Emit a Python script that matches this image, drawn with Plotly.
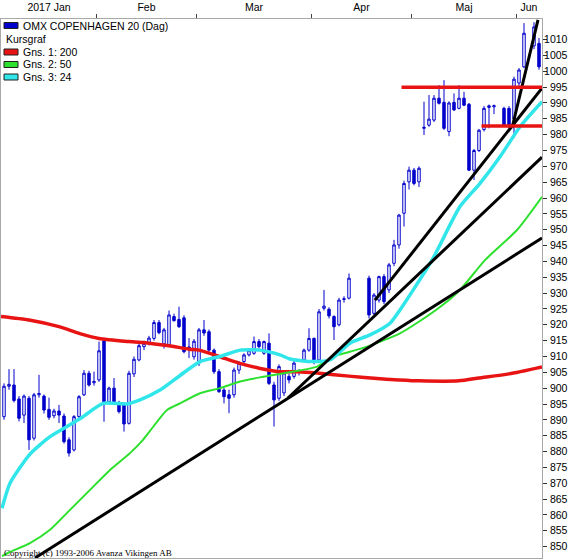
import plotly.graph_objects as go

# ---------------- data ----------------
months = ["2017 Jan", "Feb", "Mar", "Apr", "Maj", "Jun"]
month_slots = [19, 20, 23, 20, 21, 5]

slot = [0, 1, 2, 3, 4, 5, 6, 7, 8, 9, 10, 11, 12, 13, 14, 15, 16, 17, 18, 19,
        20, 21, 22, 23, 24, 25, 26, 27, 28, 29, 30, 31, 32, 33, 34, 35, 36, 37, 38, 39,
        40, 41, 42, 43, 44, 45, 46, 47, 48, 49, 50, 51, 52, 53, 54, 55, 56, 57, 58, 59,
        60, 61, 62, 63, 64, 65, 66, 67, 68, 69, 73, 74, 75, 76, 77, 78, 79,
        80, 81, 82, 83, 84, 85, 86, 87, 88, 89, 90, 91, 92, 93, 94, 95, 96, 97, 98,
        100, 101, 102, 103, 104, 106, 107]
open_ = [891.0, 900.6, 901.0, 896.6, 891.5, 896.8, 884.2, 897.9, 897.5, 893.3,
         891.3, 892.8, 891.2, 883.7, 880.5, 891.0, 897.9, 904.7, 901.7, 902.6,
         914.9, 895.7, 900.0, 895.2, 894.7, 888.9, 904.5, 908.9, 913.1, 914.3,
         915.7, 920.7, 914.0, 913.6, 922.6, 921.7, 922.2, 912.5, 909.9, 907.9,
         918.4, 917.8, 912.0, 905.2, 899.4, 897.9, 897.9, 905.7, 908.4, 910.5,
         911.0, 914.7, 911.0, 914.2, 901.0, 896.8, 898.5, 903.7, 903.7, 905.0,
         908.9, 912.0, 915.7, 908.9, 925.2, 924.9, 922.6, 920.0, 928.0, 928.4,
         934.7, 923.6, 927.8, 935.2, 931.0, 939.4, 945.2,
         955.2, 965.1, 968.8, 965.1, 982.0, 983.0, 984.6, 991.5, 990.2, 981.0,
         990.2, 988.3, 991.5, 989.6, 968.8, 975.0, 981.6, 988.6, 988.8,
         988.3, 988.3, 985.0, 996.3, 1001.4, 1008.0, 1008.8]
high = [901.5, 906.0, 906.0, 897.5, 898.0, 897.5, 898.5, 904.2, 898.0, 897.0,
        893.5, 894.7, 892.0, 884.5, 891.5, 897.8, 905.7, 905.5, 905.2, 914.7,
        915.5, 900.5, 903.2, 896.0, 895.5, 905.5, 910.0, 914.0, 915.0, 916.5,
        921.5, 921.5, 919.0, 924.5, 923.5, 925.7, 923.0, 915.8, 915.5, 919.0,
        921.5, 918.5, 912.5, 906.0, 900.0, 899.5, 906.5, 908.5, 911.0, 912.5,
        916.3, 915.5, 915.0, 917.3, 902.0, 907.5, 905.5, 904.5, 909.0, 906.0,
        912.5, 918.9, 916.0, 925.0, 931.0, 925.5, 923.0, 928.5, 929.0, 936.2,
        935.5, 930.0, 935.5, 936.0, 939.5, 946.8, 955.0,
        965.5, 969.9, 969.5, 970.0, 990.4, 992.5, 992.5, 995.6, 997.2, 990.5,
        993.0, 995.6, 993.5, 990.0, 975.5, 981.8, 989.0, 989.5, 989.5,
        988.8, 989.0, 998.3, 1001.0, 1015.2, 1015.5, 1010.5]
low = [890.0, 899.5, 895.5, 889.5, 889.0, 880.5, 883.5, 897.0, 892.0, 890.0,
       890.5, 889.0, 882.5, 878.4, 880.0, 890.5, 897.5, 900.5, 900.8, 902.0,
       889.4, 895.0, 895.0, 892.0, 886.3, 888.5, 903.5, 908.5, 912.0, 913.5,
       915.0, 917.0, 912.5, 913.0, 921.0, 919.0, 911.0, 909.5, 909.0, 907.0,
       916.5, 911.5, 904.5, 898.5, 895.2, 892.1, 897.0, 904.5, 907.5, 910.0,
       910.5, 912.5, 910.5, 901.0, 887.9, 896.0, 897.5, 901.5, 903.0, 904.0,
       908.5, 911.5, 907.5, 908.0, 924.5, 922.0, 915.2, 919.5, 927.0, 928.0,
       922.0, 923.0, 927.0, 926.5, 930.0, 938.5, 944.0,
       951.0, 962.7, 964.0, 963.5, 979.9, 982.5, 984.0, 989.5, 981.5, 979.5,
       987.5, 988.0, 989.0, 968.5, 965.7, 974.5, 981.0, 982.0, 986.5,
       982.5, 982.0, 979.0, 995.0, 1001.0, 1007.0, 1000.5]
close = [900.6, 901.2, 896.1, 890.5, 897.5, 883.7, 897.9, 898.3, 893.1, 890.8,
         892.8, 891.5, 883.1, 879.5, 891.0, 897.3, 904.7, 901.0, 902.1, 911.8,
         895.7, 900.0, 895.7, 892.6, 888.7, 904.7, 909.1, 913.4, 914.2, 915.8,
         920.7, 917.5, 918.4, 923.1, 921.3, 919.4, 911.5, 913.0, 914.8, 918.4,
         917.4, 912.0, 905.2, 898.9, 897.3, 896.8, 905.7, 907.9, 910.5, 912.0,
         914.7, 913.1, 914.7, 901.5, 896.3, 906.8, 904.8, 902.6, 907.9, 905.3,
         912.0, 915.7, 908.4, 924.1, 925.9, 922.8, 919.4, 927.8, 928.2, 934.7,
         923.1, 929.4, 935.2, 927.3, 938.9, 945.2, 954.6,
         964.6, 968.8, 964.6, 969.4, 982.3, 984.9, 991.5, 989.9, 982.0, 990.0,
         987.8, 991.5, 989.3, 968.8, 975.0, 981.4, 988.3, 989.1, 989.1,
         983.0, 982.5, 997.5, 1000.4, 1012.0, 1014.0, 1001.4]

ma200_slot = [-0.6, 5, 11, 15, 19, 25, 29, 33, 37, 39, 43, 47, 51, 55, 59, 63,
              69, 74, 79, 83, 91, 95, 101, 107.6]
ma200_val = [922.6, 921.5, 919.4, 917.3, 915.7, 914.7, 914.2, 913.4, 912.3, 912.0,
             910.0, 907.9, 906.3, 905.2, 905.2, 904.7, 903.8, 903.1, 902.6, 902.3,
             902.3, 903.2, 904.5, 906.7]

ma50_slot = [-0.4, 1.2, 5.2, 9.2, 13.2, 17.2, 21.2, 25.2, 27.8, 29.2, 32.6, 35.2,
             39.2, 43.2, 47.2, 51.2, 55.2, 62.6, 65.8, 69.2, 72.6, 79.2, 83.2,
             87.2, 91.2, 96.2, 102.6, 107.6]
ma50_val = [847.0, 848.3, 851.1, 855.3, 861.6, 867.9, 874.2, 879.5, 883.7, 886.5,
            893.1, 895.2, 898.4, 900.0, 902.1, 903.4, 904.5, 906.8, 910.0, 911.5,
            913.1, 917.3, 921.2, 925.6, 931.0, 940.4, 949.9, 960.4]

ma24_slot = [-0.4, 1.2, 5.2, 9.2, 12.6, 15.8, 19.8, 24.6, 27.2, 31.2, 35.2, 39.2,
             43.2, 47.2, 51.2, 55.2, 57.2, 61.2, 65.2, 69.2, 73.2, 77.2, 79.2,
             85.6, 91.2, 95.2, 99.2, 103.2, 107.6]
ma24_val = [862.1, 870.0, 879.2, 884.7, 887.9, 891.0, 895.2, 895.0, 896.3, 899.4,
            904.0, 908.4, 910.0, 912.0, 912.0, 910.5, 909.2, 908.4, 908.9, 914.2,
            916.8, 920.5, 924.7, 940.4, 957.3, 964.6, 973.0, 982.5, 990.4]

trend_start_slot = [6.2, 56.8, 74.2, 101.6]
trend_start_val = [846.4, 896.9, 927.8, 982.1]
trend_end_slot = [107.6, 107.6, 107.6, 106.8]
trend_end_val = [947.4, 972.9, 994.7, 1016.2]

level_val = [995.0, 982.7]
level_start_slot = [79.5, 95.5]

y_ticks = list(range(850, 1011, 5))

legend_labels = ["OMX COPENHAGEN 20 (Dag)", "Kursgraf", "Gns. 1: 200", "Gns. 2: 50", "Gns. 3: 24"]
copyright_text = "Copyright (c) 1993-2006 Avanza Vikingen AB"

# ---------------- styles ----------------
W, H = 578, 560
ML, MR, MT, MB = 1, 36, 19, 2
PW, PH = W - ML - MR, H - MT - MB
X_RANGE = [-0.6, 107.6]
Y_RANGE = [846.4, 1016.5]

BLUE = "#0000cc"
RED = "#e81414"
GREEN = "#2ee02e"
CYAN = "#30e6ea"
BLACK = "#000000"
FONT = "Liberation Sans, Arial, sans-serif"


def px(x, y):
    return (x - ML) / PW, (H - MB - y) / PH


fig = go.Figure()

fig.add_trace(go.Candlestick(
    x=slot, open=open_, high=high, low=low, close=close,
    increasing=dict(line=dict(color=BLUE, width=1), fillcolor="white"),
    decreasing=dict(line=dict(color=BLUE, width=1), fillcolor=BLUE),
    whiskerwidth=0, hoverinfo="skip", showlegend=False))

for sx, sv, col, wd in [(ma200_slot, ma200_val, RED, 3.5),
                        (ma50_slot, ma50_val, GREEN, 2),
                        (ma24_slot, ma24_val, CYAN, 3.5)]:
    fig.add_trace(go.Scatter(x=sx, y=sv, mode="lines",
                             line=dict(color=col, width=wd, shape="spline", smoothing=0.6),
                             hoverinfo="skip", showlegend=False))

for x0, y0, x1, y1 in zip(trend_start_slot, trend_start_val, trend_end_slot, trend_end_val):
    fig.add_trace(go.Scatter(x=[x0, x1], y=[y0, y1], mode="lines",
                             line=dict(color=BLACK, width=3),
                             hoverinfo="skip", showlegend=False))

for lv, ls in zip(level_val, level_start_slot):
    fig.add_trace(go.Scatter(x=[ls, X_RANGE[1]], y=[lv, lv], mode="lines",
                             line=dict(color=RED, width=3.5),
                             hoverinfo="skip", showlegend=False))

# month boundaries and label centres
bounds, centres, acc = [], [], 0
for n in month_slots:
    centres.append(acc + (n - 1) / 2)
    acc += n
    bounds.append(acc - 0.5)
bounds = bounds[:-1]

ytext = [("\u2007" if v < 1000 else "") + str(v) for v in y_ticks]

fig.update_layout(
    width=W, height=H,
    margin=dict(l=ML, r=MR, t=MT, b=MB, pad=0),
    paper_bgcolor="white", plot_bgcolor="white",
    font=dict(family=FONT, size=10.5, color="black"),
    showlegend=False,
    xaxis=dict(range=X_RANGE, side="top", tickmode="array", tickvals=centres,
               ticktext=months, ticks="", showgrid=False, zeroline=False,
               showline=True, mirror=True, linecolor="#a8a8a8", linewidth=1,
               rangeslider=dict(visible=False), ticklabelstandoff=3,
               automargin=False,
               minor=dict(tickmode="array", tickvals=bounds, ticks="outside",
                          ticklen=4, tickcolor="#404040", tickwidth=1, showgrid=False),
               fixedrange=True),
    yaxis=dict(range=Y_RANGE, side="right", tickmode="array", tickvals=y_ticks,
               ticktext=ytext, ticks="outside", ticklen=4, tickcolor="#303030",
               showgrid=False, zeroline=False, showline=True, mirror=True,
               linecolor="#a8a8a8", linewidth=1, ticklabelstandoff=-5,
               automargin=False, fixedrange=True),
)

# legend (boxes + text)
rows_y = [25.5, 39, 52, 64.5, 77]
box_cols = [BLUE, None, RED, GREEN, CYAN]
for lbl, ry, bc in zip(legend_labels, rows_y, box_cols):
    if bc is None:
        tx = 4
    else:
        x0, y0 = px(4, ry - 3)
        x1, y1 = px(18, ry + 3)
        fig.add_shape(type="rect", xref="paper", yref="paper", x0=x0, x1=x1, y0=y1, y1=y0,
                      fillcolor=bc, line=dict(color="#202020", width=1))
        tx = 21
    ax, ay = px(tx, ry)
    fig.add_annotation(xref="paper", yref="paper", x=ax, y=ay, text=lbl, showarrow=False,
                       xanchor="left", yanchor="middle",
                       font=dict(family=FONT, size=10.5, color="black"))

cx, cy = px(2, 553)
fig.add_annotation(xref="paper", yref="paper", x=cx, y=cy, text=copyright_text,
                   showarrow=False, xanchor="left", yanchor="middle",
                   font=dict(family="Liberation Serif, serif", size=9, color="black"))

fig.write_html("out.html", config={"displayModeBar": False},
               post_script="document.body.style.margin='0';document.body.style.padding='0';")
